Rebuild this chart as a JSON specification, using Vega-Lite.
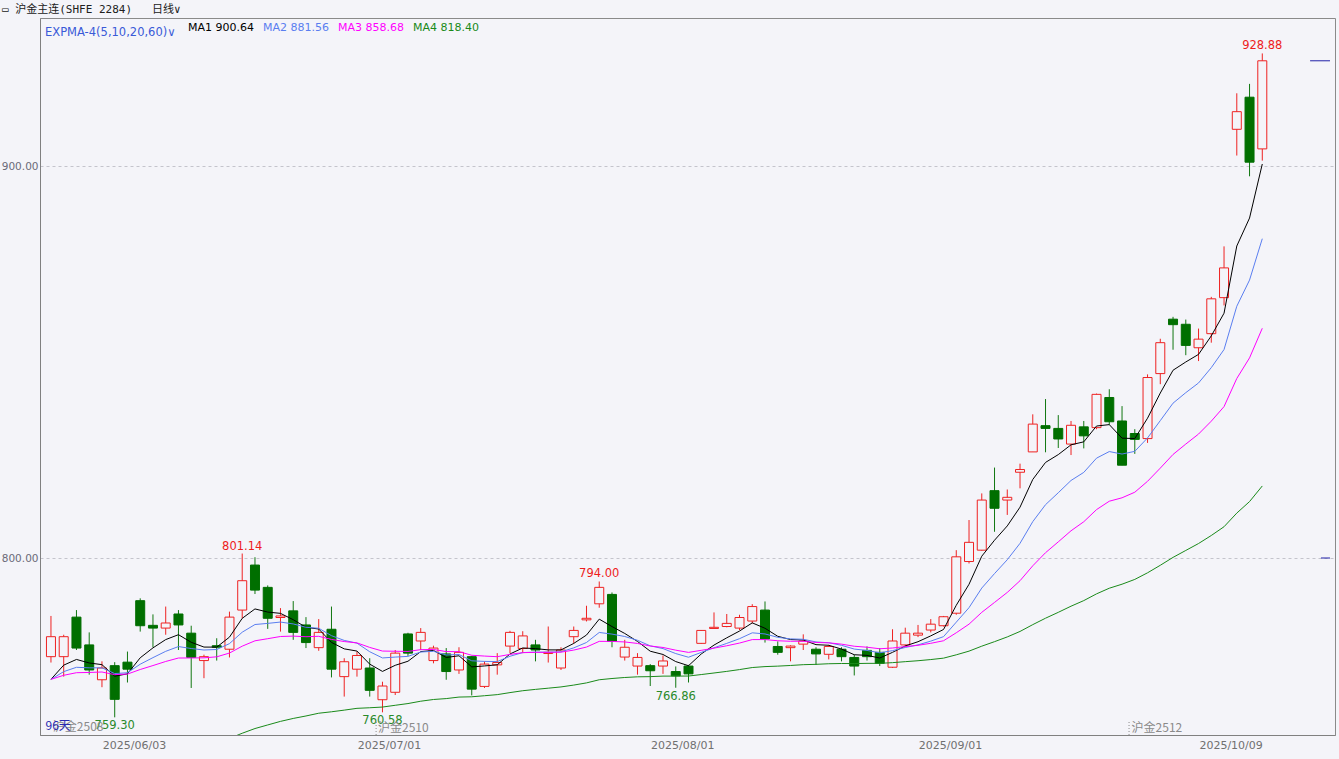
{
"$schema": "https://vega.github.io/schema/vega-lite/v6.json",
"width": 1295, "height": 717,
"autosize": {"type": "none"},
"padding": {"left": 40, "top": 18, "right": 4, "bottom": 24},
"background": "#f4f4f9",
"config": {"view": {"stroke": "#8a8a8a", "fill": "#f4f4f9"}, "font": "DejaVu Sans"},
"title": {"text": "▭ 沪金主连(SHFE 2284)\u00a0\u00a0\u00a0日线∨", "anchor": "start", "frame": "group", "offset": 3, "dx": -38, "font": "DejaVu Sans Mono, Noto Sans CJK SC", "fontSize": 11, "fontWeight": "normal", "color": "#202020"},
"datasets": {
"k": [
{"i":0,"o":774.8,"h":785.2,"l":773.3,"c":779.9,"MA1":769.00,"MA2":769.00,"MA3":769.00,"MA4":740.00},
{"i":1,"o":774.8,"h":780.4,"l":769.7,"c":779.9,"MA1":772.63,"MA2":770.98,"MA3":770.04,"MA4":741.31},
{"i":2,"o":784.9,"h":786.7,"l":776.5,"c":777.0,"MA1":774.09,"MA2":772.08,"MA3":770.70,"MA4":742.48},
{"i":3,"o":777.8,"h":781.0,"l":770.2,"c":771.4,"MA1":773.19,"MA2":771.95,"MA3":770.77,"MA4":743.43},
{"i":4,"o":768.9,"h":773.6,"l":767.0,"c":771.9,"MA1":772.76,"MA2":771.94,"MA3":770.88,"MA4":744.36},
{"i":5,"o":772.5,"h":773.4,"l":759.3,"c":763.9,"MA1":769.81,"MA2":770.48,"MA3":770.21,"MA4":745.00},
{"i":6,"o":773.4,"h":776.1,"l":768.2,"c":771.6,"MA1":770.41,"MA2":770.69,"MA3":770.35,"MA4":745.87},
{"i":7,"o":789.1,"h":789.7,"l":781.2,"c":782.7,"MA1":774.51,"MA2":772.87,"MA3":771.52,"MA4":747.08},
{"i":8,"o":782.8,"h":785.6,"l":777.2,"c":782.1,"MA1":777.04,"MA2":774.55,"MA3":772.53,"MA4":748.23},
{"i":9,"o":782.1,"h":787.6,"l":780.4,"c":783.4,"MA1":779.16,"MA2":776.16,"MA3":773.57,"MA4":749.38},
{"i":10,"o":785.7,"h":786.7,"l":776.5,"c":782.9,"MA1":780.41,"MA2":777.38,"MA3":774.45,"MA4":750.48},
{"i":11,"o":780.8,"h":782.7,"l":766.8,"c":774.6,"MA1":778.47,"MA2":776.88,"MA3":774.47,"MA4":751.27},
{"i":12,"o":773.8,"h":775.3,"l":769.3,"c":774.8,"MA1":777.25,"MA2":776.50,"MA3":774.50,"MA4":752.04},
{"i":13,"o":777.6,"h":779.5,"l":773.8,"c":777.2,"MA1":777.23,"MA2":776.63,"MA3":774.76,"MA4":752.87},
{"i":14,"o":776.7,"h":786.3,"l":774.6,"c":784.9,"MA1":779.79,"MA2":778.13,"MA3":775.72,"MA4":753.92},
{"i":15,"o":786.7,"h":801.14,"l":784.6,"c":794.2,"MA1":784.59,"MA2":781.05,"MA3":777.48,"MA4":755.24},
{"i":16,"o":798.2,"h":800.2,"l":790.8,"c":791.8,"MA1":786.99,"MA2":783.01,"MA3":778.85,"MA4":756.44},
{"i":17,"o":792.5,"h":793.0,"l":781.9,"c":784.6,"MA1":786.19,"MA2":783.30,"MA3":779.39,"MA4":757.36},
{"i":18,"o":784.8,"h":787.2,"l":781.2,"c":785.2,"MA1":785.86,"MA2":783.64,"MA3":779.95,"MA4":758.27},
{"i":19,"o":786.5,"h":789.0,"l":779.1,"c":781.0,"MA1":784.24,"MA2":783.16,"MA3":780.05,"MA4":759.02},
{"i":20,"o":782.9,"h":784.9,"l":777.0,"c":778.4,"MA1":782.29,"MA2":782.30,"MA3":779.89,"MA4":759.65},
{"i":21,"o":777.1,"h":784.4,"l":776.3,"c":781.0,"MA1":781.86,"MA2":782.06,"MA3":780.00,"MA4":760.35},
{"i":22,"o":781.8,"h":787.6,"l":769.5,"c":771.6,"MA1":778.44,"MA2":780.16,"MA3":779.20,"MA4":760.72},
{"i":23,"o":769.7,"h":774.4,"l":764.6,"c":773.5,"MA1":776.79,"MA2":778.95,"MA3":778.66,"MA4":761.14},
{"i":24,"o":771.6,"h":776.1,"l":769.7,"c":775.1,"MA1":776.23,"MA2":778.25,"MA3":778.32,"MA4":761.60},
{"i":25,"o":771.9,"h":774.4,"l":764.6,"c":766.2,"MA1":772.89,"MA2":776.06,"MA3":777.16,"MA4":761.75},
{"i":26,"o":763.8,"h":768.4,"l":760.58,"c":767.3,"MA1":771.03,"MA2":774.47,"MA3":776.23,"MA4":761.93},
{"i":27,"o":765.7,"h":776.5,"l":765.0,"c":775.7,"MA1":772.59,"MA2":774.69,"MA3":776.18,"MA4":762.38},
{"i":28,"o":780.6,"h":780.9,"l":775.0,"c":775.7,"MA1":773.63,"MA2":774.87,"MA3":776.13,"MA4":762.82},
{"i":29,"o":778.8,"h":782.1,"l":776.5,"c":781.0,"MA1":776.09,"MA2":775.99,"MA3":776.59,"MA4":763.42},
{"i":30,"o":773.8,"h":777.6,"l":773.1,"c":777.0,"MA1":776.39,"MA2":776.17,"MA3":776.63,"MA4":763.86},
{"i":31,"o":775.5,"h":777.0,"l":768.9,"c":771.0,"MA1":774.59,"MA2":775.23,"MA3":776.10,"MA4":764.09},
{"i":32,"o":771.4,"h":777.2,"l":770.4,"c":775.9,"MA1":775.03,"MA2":775.35,"MA3":776.08,"MA4":764.48},
{"i":33,"o":774.8,"h":775.0,"l":764.9,"c":766.5,"MA1":772.19,"MA2":773.74,"MA3":775.16,"MA4":764.55},
{"i":34,"o":767.2,"h":773.6,"l":766.8,"c":772.9,"MA1":772.43,"MA2":773.59,"MA3":774.95,"MA4":764.82},
{"i":35,"o":772.7,"h":775.7,"l":770.2,"c":773.3,"MA1":772.72,"MA2":773.54,"MA3":774.79,"MA4":765.10},
{"i":36,"o":777.5,"h":781.4,"l":775.7,"c":781.0,"MA1":775.48,"MA2":774.90,"MA3":775.38,"MA4":765.62},
{"i":37,"o":776.9,"h":781.3,"l":775.7,"c":780.1,"MA1":777.02,"MA2":775.84,"MA3":775.83,"MA4":766.10},
{"i":38,"o":777.8,"h":779.1,"l":773.6,"c":776.5,"MA1":776.85,"MA2":775.96,"MA3":775.90,"MA4":766.44},
{"i":39,"o":775.6,"h":782.5,"l":773.3,"c":775.9,"MA1":776.53,"MA2":775.95,"MA3":775.90,"MA4":766.75},
{"i":40,"o":771.9,"h":777.2,"l":771.4,"c":776.5,"MA1":776.52,"MA2":776.05,"MA3":775.95,"MA4":767.07},
{"i":41,"o":779.9,"h":782.5,"l":778.2,"c":781.5,"MA1":778.18,"MA2":777.04,"MA3":776.48,"MA4":767.54},
{"i":42,"o":784.2,"h":787.8,"l":783.8,"c":784.6,"MA1":780.32,"MA2":778.42,"MA3":777.25,"MA4":768.10},
{"i":43,"o":788.3,"h":794.0,"l":787.3,"c":792.5,"MA1":784.38,"MA2":780.98,"MA3":778.71,"MA4":768.90},
{"i":44,"o":790.7,"h":791.2,"l":777.2,"c":778.7,"MA1":782.49,"MA2":780.56,"MA3":778.70,"MA4":769.22},
{"i":45,"o":774.7,"h":779.1,"l":773.8,"c":777.2,"MA1":780.73,"MA2":779.95,"MA3":778.56,"MA4":769.48},
{"i":46,"o":772.4,"h":775.7,"l":770.2,"c":774.6,"MA1":778.69,"MA2":778.98,"MA3":778.18,"MA4":769.65},
{"i":47,"o":772.5,"h":772.9,"l":767.3,"c":771.2,"MA1":776.19,"MA2":777.56,"MA3":777.52,"MA4":769.70},
{"i":48,"o":772.4,"h":775.1,"l":770.4,"c":773.7,"MA1":775.36,"MA2":776.86,"MA3":777.15,"MA4":769.83},
{"i":49,"o":771.0,"h":772.3,"l":766.86,"c":769.9,"MA1":773.54,"MA2":775.59,"MA3":776.46,"MA4":769.83},
{"i":50,"o":772.4,"h":772.7,"l":768.2,"c":770.4,"MA1":772.49,"MA2":774.65,"MA3":775.89,"MA4":769.85},
{"i":51,"o":778.2,"h":781.6,"l":778.1,"c":781.5,"MA1":775.49,"MA2":775.89,"MA3":776.42,"MA4":770.23},
{"i":52,"o":782.0,"h":786.1,"l":782.0,"c":782.3,"MA1":777.76,"MA2":777.06,"MA3":776.98,"MA4":770.63},
{"i":53,"o":782.5,"h":785.7,"l":782.3,"c":783.3,"MA1":779.61,"MA2":778.19,"MA3":777.58,"MA4":771.04},
{"i":54,"o":782.1,"h":785.5,"l":781.6,"c":784.8,"MA1":781.34,"MA2":779.39,"MA3":778.27,"MA4":771.50},
{"i":55,"o":783.9,"h":788.2,"l":783.3,"c":787.6,"MA1":783.43,"MA2":780.89,"MA3":779.16,"MA4":772.02},
{"i":56,"o":786.7,"h":788.9,"l":778.4,"c":779.3,"MA1":782.05,"MA2":780.60,"MA3":779.17,"MA4":772.26},
{"i":57,"o":777.4,"h":778.7,"l":775.3,"c":775.9,"MA1":780.00,"MA2":779.74,"MA3":778.86,"MA4":772.38},
{"i":58,"o":777.1,"h":777.7,"l":773.6,"c":777.5,"MA1":779.17,"MA2":779.34,"MA3":778.73,"MA4":772.55},
{"i":59,"o":778.0,"h":780.5,"l":776.5,"c":778.8,"MA1":779.05,"MA2":779.24,"MA3":778.74,"MA4":772.75},
{"i":60,"o":776.7,"h":777.2,"l":772.7,"c":775.5,"MA1":777.87,"MA2":778.56,"MA3":778.43,"MA4":772.84},
{"i":61,"o":775.4,"h":777.8,"l":774.1,"c":777.4,"MA1":777.71,"MA2":778.35,"MA3":778.33,"MA4":772.99},
{"i":62,"o":776.7,"h":777.2,"l":773.6,"c":774.8,"MA1":776.74,"MA2":777.70,"MA3":778.00,"MA4":773.05},
{"i":63,"o":774.6,"h":775.3,"l":770.0,"c":772.4,"MA1":775.29,"MA2":776.74,"MA3":777.46,"MA4":773.03},
{"i":64,"o":776.4,"h":777.4,"l":773.8,"c":774.8,"MA1":775.13,"MA2":776.39,"MA3":777.21,"MA4":773.09},
{"i":65,"o":775.9,"h":777.0,"l":772.4,"c":773.1,"MA1":774.45,"MA2":775.79,"MA3":776.82,"MA4":773.09},
{"i":66,"o":772.1,"h":781.8,"l":771.9,"c":778.8,"MA1":775.90,"MA2":776.34,"MA3":777.01,"MA4":773.27},
{"i":67,"o":777.8,"h":782.2,"l":777.4,"c":780.8,"MA1":777.53,"MA2":777.15,"MA3":777.37,"MA4":773.52},
{"i":68,"o":780.3,"h":782.9,"l":779.8,"c":780.8,"MA1":778.62,"MA2":777.81,"MA3":777.70,"MA4":773.76},
{"i":69,"o":781.6,"h":784.4,"l":781.0,"c":783.1,"MA1":780.11,"MA2":778.77,"MA3":778.21,"MA4":774.06},
{"i":70,"o":782.7,"h":785.2,"l":782.5,"c":785.0,"MA1":781.74,"MA2":779.91,"MA3":778.86,"MA4":774.42},
{"i":71,"o":785.9,"h":802.0,"l":785.5,"c":800.3,"MA1":787.93,"MA2":783.61,"MA3":780.90,"MA4":775.27},
{"i":72,"o":799.1,"h":809.7,"l":798.6,"c":804.0,"MA1":793.29,"MA2":787.32,"MA3":783.10,"MA4":776.21},
{"i":73,"o":802.0,"h":816.5,"l":801.9,"c":814.8,"MA1":800.46,"MA2":792.32,"MA3":786.12,"MA4":777.48},
{"i":74,"o":817.2,"h":823.1,"l":806.7,"c":812.7,"MA1":804.54,"MA2":796.02,"MA3":788.65,"MA4":778.63},
{"i":75,"o":814.8,"h":817.5,"l":811.0,"c":815.5,"MA1":808.19,"MA2":799.56,"MA3":791.21,"MA4":779.84},
{"i":76,"o":821.9,"h":824.1,"l":817.8,"c":822.6,"MA1":812.99,"MA2":803.75,"MA3":794.20,"MA4":781.24},
{"i":77,"o":827.1,"h":836.7,"l":827.1,"c":834.2,"MA1":820.06,"MA2":809.29,"MA3":798.01,"MA4":782.98},
{"i":78,"o":833.8,"h":840.6,"l":827.0,"c":833.1,"MA1":824.41,"MA2":813.62,"MA3":801.35,"MA4":784.62},
{"i":79,"o":833.1,"h":836.5,"l":828.1,"c":830.4,"MA1":826.41,"MA2":816.67,"MA3":804.12,"MA4":786.12},
{"i":80,"o":829.1,"h":835.0,"l":826.3,"c":833.9,"MA1":828.91,"MA2":819.80,"MA3":806.95,"MA4":787.69},
{"i":81,"o":833.5,"h":835.0,"l":828.0,"c":831.2,"MA1":829.67,"MA2":821.87,"MA3":809.26,"MA4":789.12},
{"i":82,"o":833.3,"h":842.0,"l":832.9,"c":841.8,"MA1":833.71,"MA2":825.50,"MA3":812.36,"MA4":790.84},
{"i":83,"o":841.0,"h":843.1,"l":834.0,"c":834.8,"MA1":834.07,"MA2":827.19,"MA3":814.50,"MA4":792.28},
{"i":84,"o":835.0,"h":838.8,"l":823.7,"c":823.7,"MA1":830.61,"MA2":826.55,"MA3":815.38,"MA4":793.31},
{"i":85,"o":831.8,"h":832.9,"l":826.6,"c":830.3,"MA1":830.51,"MA2":827.24,"MA3":816.80,"MA4":794.53},
{"i":86,"o":830.5,"h":846.9,"l":829.4,"c":846.1,"MA1":835.71,"MA2":830.67,"MA3":819.59,"MA4":796.22},
{"i":87,"o":847.1,"h":856.0,"l":844.4,"c":855.0,"MA1":842.14,"MA2":835.09,"MA3":822.96,"MA4":798.14},
{"i":88,"o":861.0,"h":861.6,"l":853.2,"c":859.6,"MA1":847.96,"MA2":839.55,"MA3":826.45,"MA4":800.16},
{"i":89,"o":859.7,"h":860.9,"l":851.8,"c":854.3,"MA1":850.07,"MA2":842.23,"MA3":829.10,"MA4":801.93},
{"i":90,"o":853.7,"h":858.6,"l":850.3,"c":855.9,"MA1":852.01,"MA2":844.71,"MA3":831.66,"MA4":803.70},
{"i":91,"o":857.3,"h":866.7,"l":855.0,"c":866.2,"MA1":856.74,"MA2":848.62,"MA3":834.95,"MA4":805.75},
{"i":92,"o":866.5,"h":879.6,"l":864.5,"c":874.1,"MA1":862.53,"MA2":853.25,"MA3":838.67,"MA4":807.99},
{"i":93,"o":909.5,"h":918.7,"l":902.8,"c":914.0,"MA1":879.69,"MA2":864.30,"MA3":845.85,"MA4":811.47},
{"i":94,"o":917.7,"h":921.1,"l":897.5,"c":901.1,"MA1":886.83,"MA2":870.99,"MA3":851.11,"MA4":814.41},
{"i":95,"o":904.5,"h":928.88,"l":901.5,"c":927.0,"MA1":900.64,"MA2":881.56,"MA3":858.68,"MA4":818.40}
],
"hi": [
{"i":15,"p":801.14,"t":"801.14"},
{"i":43,"p":794.0,"t":"794.00"},
{"i":95,"p":928.88,"t":"928.88"}
],
"lo": [
{"i":5,"p":759.3,"t":"759.30"},
{"i":26,"p":760.58,"t":"760.58"},
{"i":49,"p":766.86,"t":"766.86"}
],
"contract": [
{"i":0.15,"p":756.9,"t":"沪金2508"},
{"i":25.65,"p":756.6,"t":"沪金2510"},
{"i":84.75,"p":756.6,"t":"沪金2512"}
],
"switch": [
{"i":25.5,"p1":754.79,"p2":758.2},
{"i":84.55,"p1":754.79,"p2":758.2}
],
"days": [
{"i":-0.43,"p":757.2,"t":"96天"}
],
"last": [
{"i":98.75,"i2":100.31,"p":927.0},
{"i":99.6,"i2":100.31,"p":800.0}
]
},
"encoding": {
"x": {"field": "i", "type": "quantitative", "scale": {"domain": [-0.467, 100.31], "nice": false, "zero": false},
 "axis": {"values": [9, 29, 52, 73, 95], "labelExpr": "datum.value == 9 ? '2025/06/03' : datum.value == 29 ? '2025/07/01' : datum.value == 52 ? '2025/08/01' : datum.value == 73 ? '2025/09/01' : '2025/10/09'", "labelAlign": "right", "labelDx": 1, "ticks": false, "grid": false, "domainColor": "#808080", "labelColor": "#707070", "labelFontSize": 11, "labelPadding": 4, "title": null, "labelFlush": false, "labelOverlap": false}}
},
"layer": [
{
"data": {"name": "k"},
"mark": {"type": "rule", "strokeWidth": 1},
"encoding": {
"y": {"field": "l", "type": "quantitative", "scale": {"domain": [754.79, 937.93], "nice": false, "zero": false}, "axis": {"values": [800, 900], "format": ".2f", "ticks": false, "grid": true, "gridDash": [3, 3], "gridColor": "#c4c4cc", "domainColor": "#808080", "labelColor": "#6a6a78", "labelFontSize": 10.5, "labelPadding": 2, "title": null}},
"y2": {"field": "h"},
"color": {"condition": {"test": "datum.c >= datum.o", "value": "#ee2222"}, "value": "#117711"}
}
},
{
"data": {"name": "k"},
"mark": {"type": "bar", "size": 9, "strokeWidth": 1},
"encoding": {
"y": {"field": "o", "type": "quantitative", "scale": {"domain": [754.79, 937.93], "nice": false, "zero": false}, "axis": {"values": [800, 900], "format": ".2f", "ticks": false, "grid": true, "gridDash": [3, 3], "gridColor": "#c4c4cc", "domainColor": "#808080", "labelColor": "#6a6a78", "labelFontSize": 10.5, "labelPadding": 2, "title": null}},
"y2": {"field": "c"},
"fill": {"condition": {"test": "datum.c >= datum.o", "value": "#f4f4f9"}, "value": "#006f00"},
"stroke": {"condition": {"test": "datum.c >= datum.o", "value": "#ee2222"}, "value": "#006f00"}
}
},
{
"data": {"name": "k"},
"transform": [{"fold": ["MA1", "MA2", "MA3", "MA4"], "as": ["series", "value"]}],
"mark": {"type": "line", "strokeWidth": 1, "clip": true},
"encoding": {
"y": {"field": "value", "type": "quantitative", "scale": {"domain": [754.79, 937.93], "nice": false, "zero": false}, "axis": {"values": [800, 900], "format": ".2f", "ticks": false, "grid": true, "gridDash": [3, 3], "gridColor": "#c4c4cc", "domainColor": "#808080", "labelColor": "#6a6a78", "labelFontSize": 10.5, "labelPadding": 2, "title": null}},
"color": {"field": "series", "type": "nominal",
 "scale": {"domain": ["MA1", "MA2", "MA3", "MA4"], "range": ["#000000", "#5a7ef0", "#ff00ff", "#1a8a1a"]},
 "legend": {"orient": "none", "legendX": 5, "legendY": 4, "direction": "horizontal", "title": "EXPMA-4(5,10,20,60)∨", "titleOrient": "left", "titleColor": "#3a5ad8", "titleFont": "DejaVu Sans", "titleFontSize": 11.5, "titleFontWeight": "normal", "titlePadding": 6, "titleBaseline": "top",
  "labelExpr": "datum.label == 'MA1' ? 'MA1 900.64' : datum.label == 'MA2' ? 'MA2 881.56' : datum.label == 'MA3' ? 'MA3 858.68' : 'MA4 818.40'",
  "labelFontSize": 11, "labelFont": "DejaVu Sans", "symbolSize": 0, "symbolOpacity": 0, "symbolStrokeWidth": 0, "labelOffset": -5, "columnPadding": 3, "padding": 0,
  "encode": {"labels": {"update": {"fill": {"scale": "color", "field": "value"}}}}}}
}
},
{
"data": {"name": "hi"},
"mark": {"type": "text", "baseline": "bottom", "dy": -2, "fontSize": 11.5, "color": "#ee1c1c"},
"encoding": {"y": {"field": "p", "type": "quantitative", "scale": {"domain": [754.79, 937.93], "nice": false, "zero": false}, "axis": {"values": [800, 900], "format": ".2f", "ticks": false, "grid": true, "gridDash": [3, 3], "gridColor": "#c4c4cc", "domainColor": "#808080", "labelColor": "#6a6a78", "labelFontSize": 10.5, "labelPadding": 2, "title": null}}, "text": {"field": "t"}}
},
{
"data": {"name": "lo"},
"mark": {"type": "text", "baseline": "top", "dy": 3, "fontSize": 11.5, "color": "#2a8a2a"},
"encoding": {"y": {"field": "p", "type": "quantitative", "scale": {"domain": [754.79, 937.93], "nice": false, "zero": false}, "axis": {"values": [800, 900], "format": ".2f", "ticks": false, "grid": true, "gridDash": [3, 3], "gridColor": "#c4c4cc", "domainColor": "#808080", "labelColor": "#6a6a78", "labelFontSize": 10.5, "labelPadding": 2, "title": null}}, "text": {"field": "t"}}
},
{
"data": {"name": "contract"},
"mark": {"type": "text", "align": "left", "baseline": "middle", "fontSize": 12, "font": "Noto Sans CJK SC", "color": "#8a8a8a"},
"encoding": {"y": {"field": "p", "type": "quantitative", "scale": {"domain": [754.79, 937.93], "nice": false, "zero": false}, "axis": {"values": [800, 900], "format": ".2f", "ticks": false, "grid": true, "gridDash": [3, 3], "gridColor": "#c4c4cc", "domainColor": "#808080", "labelColor": "#6a6a78", "labelFontSize": 10.5, "labelPadding": 2, "title": null}}, "text": {"field": "t"}}
},
{
"data": {"name": "switch"},
"mark": {"type": "rule", "strokeDash": [1, 2], "color": "#8a8a8a"},
"encoding": {"y": {"field": "p1", "type": "quantitative", "scale": {"domain": [754.79, 937.93], "nice": false, "zero": false}, "axis": {"values": [800, 900], "format": ".2f", "ticks": false, "grid": true, "gridDash": [3, 3], "gridColor": "#c4c4cc", "domainColor": "#808080", "labelColor": "#6a6a78", "labelFontSize": 10.5, "labelPadding": 2, "title": null}}, "y2": {"field": "p2"}}
},
{
"data": {"name": "days"},
"mark": {"type": "text", "align": "left", "baseline": "middle", "fontSize": 12, "font": "Noto Sans CJK SC", "color": "#2a2ab0"},
"encoding": {"y": {"field": "p", "type": "quantitative", "scale": {"domain": [754.79, 937.93], "nice": false, "zero": false}, "axis": {"values": [800, 900], "format": ".2f", "ticks": false, "grid": true, "gridDash": [3, 3], "gridColor": "#c4c4cc", "domainColor": "#808080", "labelColor": "#6a6a78", "labelFontSize": 10.5, "labelPadding": 2, "title": null}}, "text": {"field": "t"}}
},
{
"data": {"name": "last"},
"mark": {"type": "rule", "color": "#2020a8", "strokeWidth": 1},
"encoding": {"x2": {"field": "i2"}, "y": {"field": "p", "type": "quantitative", "scale": {"domain": [754.79, 937.93], "nice": false, "zero": false}, "axis": {"values": [800, 900], "format": ".2f", "ticks": false, "grid": true, "gridDash": [3, 3], "gridColor": "#c4c4cc", "domainColor": "#808080", "labelColor": "#6a6a78", "labelFontSize": 10.5, "labelPadding": 2, "title": null}}}
}
]
}
